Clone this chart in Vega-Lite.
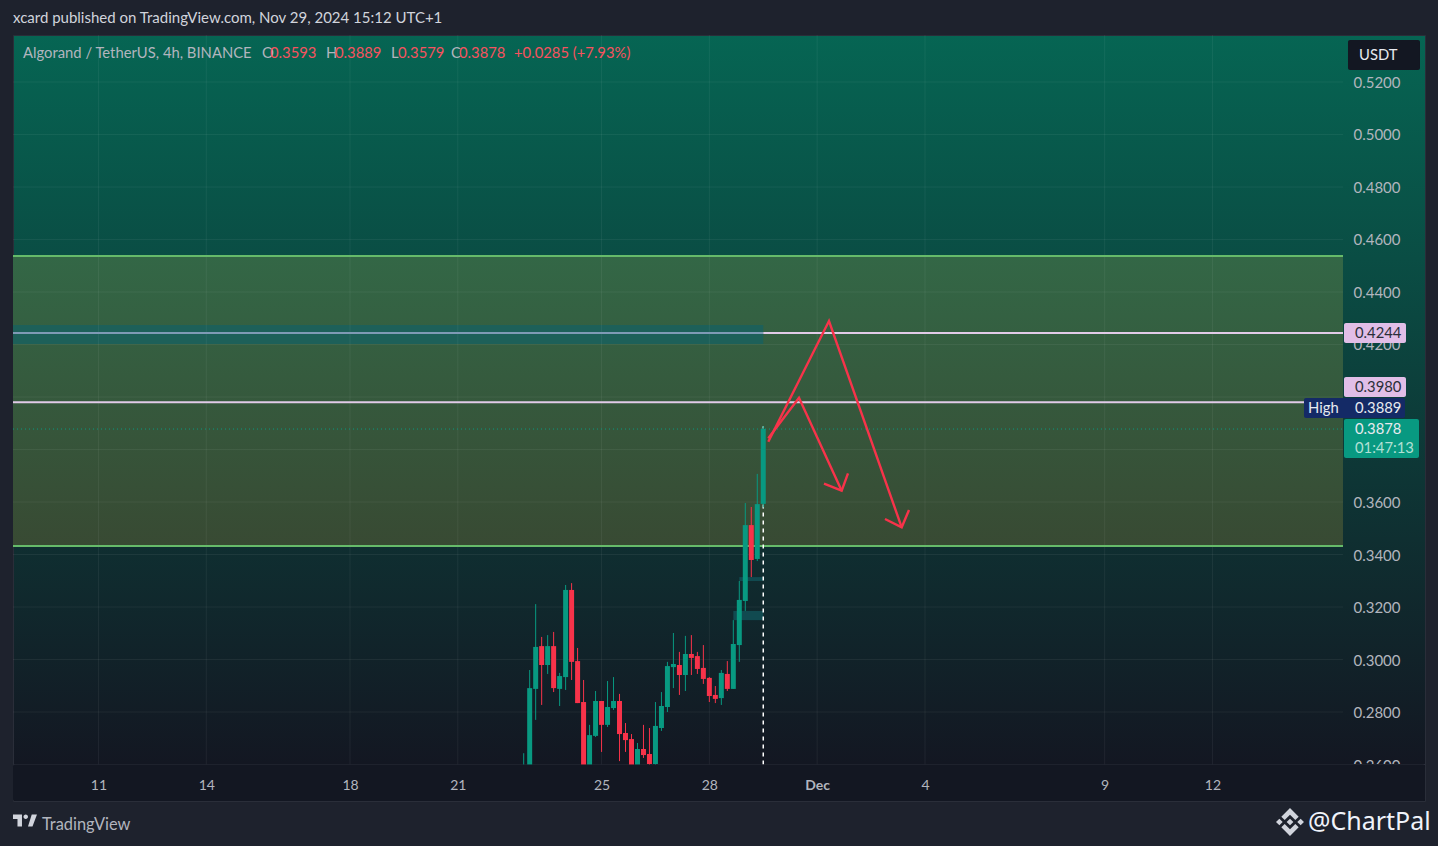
{
  "$schema": "https://vega.github.io/schema/vega-lite/v6.json",
  "width": 1412,
  "height": 766,
  "autosize": "none",
  "padding": {"left": 13, "top": 35, "right": 13, "bottom": 45},
  "background": "#1e222d",
  "title": {
    "text": "xcard published on TradingView.com, Nov 29, 2024 15:12 UTC+1",
    "anchor": "start", "frame": "group", "offset": 9, "fontSize": 15, "fontWeight": "normal",
    "font": "Lato", "color": "#d1d4dc"
  },
  "view": {
    "stroke": "#2a2e39",
    "fill": {
      "gradient": "linear", "x1": 0, "y1": 0, "x2": 0, "y2": 1,
      "stops": [{"offset": 0, "color": "#066553"}, {"offset": 0.95, "color": "#131722"}, {"offset": 1, "color": "#131722"}]
    }
  },
  "datasets": {
    "candles": [
      {"t": "2024-11-22T20:00:00Z", "o": 0.2540, "h": 0.2643, "l": 0.2500, "c": 0.2585, "dir": "up"},
      {"t": "2024-11-23T00:00:00Z", "o": 0.2560, "h": 0.2960, "l": 0.2540, "c": 0.2891, "dir": "up"},
      {"t": "2024-11-23T04:00:00Z", "o": 0.2888, "h": 0.3211, "l": 0.2770, "c": 0.3048, "dir": "up"},
      {"t": "2024-11-23T08:00:00Z", "o": 0.3051, "h": 0.3086, "l": 0.2827, "c": 0.2979, "dir": "down"},
      {"t": "2024-11-23T12:00:00Z", "o": 0.2979, "h": 0.3093, "l": 0.2945, "c": 0.3051, "dir": "up"},
      {"t": "2024-11-23T16:00:00Z", "o": 0.3051, "h": 0.3105, "l": 0.2876, "c": 0.2891, "dir": "down"},
      {"t": "2024-11-23T20:00:00Z", "o": 0.2888, "h": 0.2949, "l": 0.2823, "c": 0.2937, "dir": "up"},
      {"t": "2024-11-24T00:00:00Z", "o": 0.2933, "h": 0.3284, "l": 0.2884, "c": 0.3265, "dir": "up"},
      {"t": "2024-11-24T04:00:00Z", "o": 0.3265, "h": 0.3291, "l": 0.2922, "c": 0.2991, "dir": "down"},
      {"t": "2024-11-24T08:00:00Z", "o": 0.2994, "h": 0.3044, "l": 0.2834, "c": 0.2834, "dir": "down"},
      {"t": "2024-11-24T12:00:00Z", "o": 0.2838, "h": 0.2922, "l": 0.2540, "c": 0.2585, "dir": "down"},
      {"t": "2024-11-24T16:00:00Z", "o": 0.2570, "h": 0.2751, "l": 0.2550, "c": 0.2712, "dir": "up"},
      {"t": "2024-11-24T20:00:00Z", "o": 0.2709, "h": 0.2880, "l": 0.2705, "c": 0.2842, "dir": "up"},
      {"t": "2024-11-25T00:00:00Z", "o": 0.2842, "h": 0.2842, "l": 0.2648, "c": 0.2751, "dir": "down"},
      {"t": "2024-11-25T04:00:00Z", "o": 0.2751, "h": 0.2918, "l": 0.2743, "c": 0.2819, "dir": "up"},
      {"t": "2024-11-25T08:00:00Z", "o": 0.2815, "h": 0.2933, "l": 0.2808, "c": 0.2842, "dir": "up"},
      {"t": "2024-11-25T12:00:00Z", "o": 0.2842, "h": 0.2869, "l": 0.2613, "c": 0.2716, "dir": "down"},
      {"t": "2024-11-25T16:00:00Z", "o": 0.2720, "h": 0.2758, "l": 0.2648, "c": 0.2693, "dir": "down"},
      {"t": "2024-11-25T20:00:00Z", "o": 0.2697, "h": 0.2716, "l": 0.2591, "c": 0.2594, "dir": "down"},
      {"t": "2024-11-26T00:00:00Z", "o": 0.2594, "h": 0.2682, "l": 0.2591, "c": 0.2659, "dir": "up"},
      {"t": "2024-11-26T04:00:00Z", "o": 0.2659, "h": 0.2751, "l": 0.2625, "c": 0.2636, "dir": "down"},
      {"t": "2024-11-26T08:00:00Z", "o": 0.2640, "h": 0.2739, "l": 0.2591, "c": 0.2602, "dir": "down"},
      {"t": "2024-11-26T12:00:00Z", "o": 0.2602, "h": 0.2838, "l": 0.2591, "c": 0.2747, "dir": "up"},
      {"t": "2024-11-26T16:00:00Z", "o": 0.2739, "h": 0.2876, "l": 0.2728, "c": 0.2823, "dir": "up"},
      {"t": "2024-11-26T20:00:00Z", "o": 0.2819, "h": 0.2991, "l": 0.2800, "c": 0.2975, "dir": "up"},
      {"t": "2024-11-27T00:00:00Z", "o": 0.2971, "h": 0.3101, "l": 0.2891, "c": 0.2983, "dir": "up"},
      {"t": "2024-11-27T04:00:00Z", "o": 0.2979, "h": 0.3029, "l": 0.2865, "c": 0.2941, "dir": "down"},
      {"t": "2024-11-27T08:00:00Z", "o": 0.2941, "h": 0.3090, "l": 0.2880, "c": 0.3021, "dir": "up"},
      {"t": "2024-11-27T12:00:00Z", "o": 0.3021, "h": 0.3093, "l": 0.2941, "c": 0.3006, "dir": "down"},
      {"t": "2024-11-27T16:00:00Z", "o": 0.3013, "h": 0.3029, "l": 0.2945, "c": 0.2964, "dir": "down"},
      {"t": "2024-11-27T20:00:00Z", "o": 0.2968, "h": 0.3055, "l": 0.2907, "c": 0.2926, "dir": "down"},
      {"t": "2024-11-28T00:00:00Z", "o": 0.2930, "h": 0.2933, "l": 0.2838, "c": 0.2861, "dir": "down"},
      {"t": "2024-11-28T04:00:00Z", "o": 0.2865, "h": 0.2899, "l": 0.2834, "c": 0.2850, "dir": "down"},
      {"t": "2024-11-28T08:00:00Z", "o": 0.2853, "h": 0.2960, "l": 0.2827, "c": 0.2949, "dir": "up"},
      {"t": "2024-11-28T12:00:00Z", "o": 0.2945, "h": 0.2994, "l": 0.2880, "c": 0.2888, "dir": "down"},
      {"t": "2024-11-28T16:00:00Z", "o": 0.2888, "h": 0.3150, "l": 0.2888, "c": 0.3059, "dir": "up"},
      {"t": "2024-11-28T20:00:00Z", "o": 0.3055, "h": 0.3299, "l": 0.2991, "c": 0.3227, "dir": "up"},
      {"t": "2024-11-29T00:00:00Z", "o": 0.3223, "h": 0.3596, "l": 0.3185, "c": 0.3512, "dir": "up"},
      {"t": "2024-11-29T04:00:00Z", "o": 0.3512, "h": 0.3581, "l": 0.3314, "c": 0.3379, "dir": "down"},
      {"t": "2024-11-29T08:00:00Z", "o": 0.3383, "h": 0.3707, "l": 0.3375, "c": 0.3592, "dir": "up"},
      {"t": "2024-11-29T12:00:00Z", "o": 0.3593, "h": 0.3889, "l": 0.3579, "c": 0.3878, "dir": "up"}
    ],
    "hgrid": [
      {"t": 1731077740800, "t2": 1734275475000, "p": 0.52},
      {"t": 1731077740800, "t2": 1734275475000, "p": 0.50},
      {"t": 1731077740800, "t2": 1734275475000, "p": 0.48},
      {"t": 1731077740800, "t2": 1734275475000, "p": 0.46},
      {"t": 1731077740800, "t2": 1734275475000, "p": 0.44},
      {"t": 1731077740800, "t2": 1734275475000, "p": 0.42},
      {"t": 1731077740800, "t2": 1734275475000, "p": 0.40},
      {"t": 1731077740800, "t2": 1734275475000, "p": 0.38},
      {"t": 1731077740800, "t2": 1734275475000, "p": 0.36},
      {"t": 1731077740800, "t2": 1734275475000, "p": 0.34},
      {"t": 1731077740800, "t2": 1734275475000, "p": 0.32},
      {"t": 1731077740800, "t2": 1734275475000, "p": 0.30},
      {"t": 1731077740800, "t2": 1734275475000, "p": 0.28}
    ],
    "vgrid": [
      {"t": 1731283200000, "p": 0.26, "p2": 0.5379},
      {"t": 1731542400000, "p": 0.26, "p2": 0.5379},
      {"t": 1731888000000, "p": 0.26, "p2": 0.5379},
      {"t": 1732147200000, "p": 0.26, "p2": 0.5379},
      {"t": 1732492800000, "p": 0.26, "p2": 0.5379},
      {"t": 1732752000000, "p": 0.26, "p2": 0.5379},
      {"t": 1733011200000, "p": 0.26, "p2": 0.5379},
      {"t": 1733270400000, "p": 0.26, "p2": 0.5379},
      {"t": 1733702400000, "p": 0.26, "p2": 0.5379},
      {"t": 1733961600000, "p": 0.26, "p2": 0.5379}
    ],
    "levels": [
      {"t": 1731077740800, "t2": 1734275475000, "p": 0.4537, "kind": "zone"},
      {"t": 1731077740800, "t2": 1734275475000, "p": 0.3432, "kind": "zone"},
      {"t": 1731077740800, "t2": 1732881600000, "p": 0.4244, "kind": "under"},
      {"t": 1732881600000, "t2": 1734275475000, "p": 0.4244, "kind": "level"},
      {"t": 1731077740800, "t2": 1734275475000, "p": 0.3980, "kind": "level"}
    ],
    "arrows": [
      {"t": 1732893700000, "p": 0.38297, "leg": "a", "i": 1},
      {"t": 1733039643000, "p": 0.42895, "leg": "a", "i": 2},
      {"t": 1733214439000, "p": 0.35036, "leg": "a", "i": 3},
      {"t": 1733174286000, "p": 0.35352, "leg": "ah", "i": 1},
      {"t": 1733214439000, "p": 0.35036, "leg": "ah", "i": 2},
      {"t": 1733231991000, "p": 0.35695, "leg": "ah", "i": 3},
      {"t": 1732893700000, "p": 0.38427, "leg": "b", "i": 1},
      {"t": 1732967513000, "p": 0.39973, "leg": "b", "i": 2},
      {"t": 1733070178000, "p": 0.3643, "leg": "b", "i": 3},
      {"t": 1733027622000, "p": 0.36697, "leg": "bh", "i": 1},
      {"t": 1733070178000, "p": 0.3643, "leg": "bh", "i": 2},
      {"t": 1733085326000, "p": 0.37093, "leg": "bh", "i": 3}
    ],
    "tags": [
      {"t": 1731077740800, "t2": 1734472631000, "p": 0.26, "p2": 0.2461, "kind": "strip"},
      {"t": 1734277879000, "t2": 1734426948000, "p": 0.4282, "p2": 0.4206, "kind": "pink"},
      {"t": 1734277879000, "t2": 1734426948000, "p": 0.4076, "p2": 0.4000, "kind": "pink"},
      {"t": 1734181705000, "t2": 1734424544000, "p": 0.3996, "p2": 0.3920, "kind": "navy"},
      {"t": 1734277879000, "t2": 1734458205000, "p": 0.3916, "p2": 0.3768, "kind": "green"},
      {"t": 1734287496000, "t2": 1734460609000, "p": 0.5360, "p2": 0.5246, "kind": "button"}
    ],
    "labels": [
      {"t": 1731101744000, "p": 0.5309, "text": "Algorand / TetherUS, 4h, BINANCE", "kind": "grey"},
      {"t": 1731676382000, "p": 0.5309, "text": "O", "kind": "grey"},
      {"t": 1731695617000, "p": 0.5309, "text": "0.3593", "kind": "red"},
      {"t": 1731830260000, "p": 0.5309, "text": "H", "kind": "grey"},
      {"t": 1731851899000, "p": 0.5309, "text": "0.3889", "kind": "red"},
      {"t": 1731986542000, "p": 0.5309, "text": "L", "kind": "grey"},
      {"t": 1732003372000, "p": 0.5309, "text": "0.3579", "kind": "red"},
      {"t": 1732130802000, "p": 0.5309, "text": "C", "kind": "grey"},
      {"t": 1732150037000, "p": 0.5309, "text": "0.3878", "kind": "red"},
      {"t": 1732282276000, "p": 0.5309, "text": "+0.0285 (+7.93%)", "kind": "red"},
      {"t": 1734313944000, "p": 0.5303, "text": "USDT", "kind": "light"},
      {"t": 1734304327000, "p": 0.4244, "text": "0.4244", "kind": "dark"},
      {"t": 1734304327000, "p": 0.4038, "text": "0.3980", "kind": "dark"},
      {"t": 1734191323000, "p": 0.3958, "text": "High", "kind": "light"},
      {"t": 1734304327000, "p": 0.3958, "text": "0.3889", "kind": "light"},
      {"t": 1734304327000, "p": 0.3878, "text": "0.3878", "kind": "light"},
      {"t": 1734304327000, "p": 0.3806, "text": "01:47:13", "kind": "mint"}
    ]
  },
  "encoding": {
    "x": {
      "field": "t", "type": "temporal",
      "scale": {"type": "utc", "domain": [1731077740800, 1734472631000], "nice": false, "padding": 0},
      "axis": {
        "title": null, "orient": "bottom", "grid": false, "domain": false, "ticks": false, "zindex": 1,
        "values": [1731283200000, 1731542400000, 1731888000000, 1732147200000, 1732492800000, 1732752000000, 1733011200000, 1733270400000, 1733702400000, 1733961600000],
        "labelExpr": "utcFormat(datum.value, '%d') == '01' ? 'Dec' : utcFormat(datum.value, '%-d')",
        "labelFontWeight": {"condition": {"test": "utcFormat(datum.value, '%d') == '01'", "value": "bold"}, "value": "normal"},
        "labelFont": "Lato", "labelFontSize": 14, "labelColor": "#b2b5be",
        "labelBaseline": "middle", "labelPadding": -16, "labelFlush": false, "labelOverlap": false
      }
    },
    "y": {
      "field": "p", "type": "quantitative",
      "scale": {"domain": [0.2461, 0.5379], "nice": false, "zero": false},
      "axis": {
        "title": null, "orient": "right", "grid": false, "domain": false, "ticks": false, "zindex": 0,
        "values": [0.26, 0.28, 0.30, 0.32, 0.34, 0.36, 0.42, 0.44, 0.46, 0.48, 0.50, 0.52],
        "format": ".4f", "labelFont": "Lato", "labelFontSize": 15, "labelColor": "#b2b5be", "labelOffset": 0.5,
        "labelAlign": "right", "labelPadding": -25, "labelOverlap": false, "labelBound": false
      }
    }
  },
  "layer": [
    {
      "data": {"values": [{"t": 1731077740800, "t2": 1734275475000, "p": 0.4537, "p2": 0.3432}]},
      "mark": {
        "type": "rect",
        "fill": {
          "gradient": "linear", "x1": 0, "y1": 0, "x2": 0, "y2": 1,
          "stops": [{"offset": 0, "color": "#336746"}, {"offset": 1, "color": "#384a33"}]
        }
      },
      "encoding": {"x2": {"field": "t2"}, "y2": {"field": "p2"}}
    },
    {
      "data": {"values": [{"t": 1731077740800, "t2": 1732881600000, "p": 0.4274, "p2": 0.4202}]},
      "mark": {"type": "rect", "fill": "#1d6059"},
      "encoding": {"x2": {"field": "t2"}, "y2": {"field": "p2"}}
    },
    {
      "data": {"name": "hgrid"},
      "mark": {"type": "rule", "stroke": "#ffffff", "strokeOpacity": 0.06, "strokeWidth": 1},
      "encoding": {"x2": {"field": "t2"}}
    },
    {
      "data": {"values": [{"t": 1731077740800, "t2": 1734472631000, "p": 0.26}]},
      "mark": {"type": "rule", "stroke": "#2a2e39", "strokeWidth": 1},
      "encoding": {"x2": {"field": "t2"}}
    },
    {
      "data": {"name": "vgrid"},
      "mark": {"type": "rule", "stroke": "#ffffff", "strokeOpacity": 0.06, "strokeWidth": 1},
      "encoding": {"y2": {"field": "p2"}}
    },
    {
      "data": {"values": [{"t": 1731077740800, "t2": 1734275475000, "p": 0.3878}]},
      "mark": {"type": "rule", "stroke": "#089981", "strokeWidth": 1, "strokeDash": [1, 3]},
      "encoding": {"x2": {"field": "t2"}}
    },
    {
      "data": {"name": "levels"},
      "mark": {"type": "rule", "strokeWidth": 2},
      "encoding": {
        "x2": {"field": "t2"},
        "color": {
          "field": "kind", "type": "nominal", "legend": null,
          "scale": {"domain": ["zone", "under", "level"], "range": ["#66bb6a", "#7f9ab5", "#e1cbe8"]}
        }
      }
    },
    {
      "data": {"values": [
        {"t": "2024-11-28T20:00:00Z", "t2": "2024-11-29T12:00:00Z", "p": 0.3314, "p2": 0.3299},
        {"t": "2024-11-28T16:00:00Z", "t2": "2024-11-29T12:00:00Z", "p": 0.3185, "p2": 0.3150}
      ]},
      "mark": {"type": "rect", "fill": "#114a50"},
      "encoding": {"x2": {"field": "t2"}, "y2": {"field": "p2"}}
    },
    {
      "data": {"values": [{"t": "2024-11-29T12:00:00Z", "p": 0.26, "p2": 0.3889}]},
      "mark": {"type": "rule", "stroke": "#ffffff", "strokeWidth": 1.5, "strokeDash": [4, 4]},
      "encoding": {"y2": {"field": "p2"}}
    },
    {
      "data": {"name": "candles"},
      "mark": {"type": "rule", "strokeWidth": 1},
      "encoding": {
        "y": {"field": "l", "type": "quantitative"},
        "y2": {"field": "h"},
        "color": {"field": "dir", "type": "nominal", "legend": null, "scale": {"domain": ["up", "down"], "range": ["#089981", "#f7334a"]}}
      }
    },
    {
      "data": {"name": "candles"},
      "mark": {"type": "bar", "size": 5},
      "encoding": {
        "y": {"field": "o", "type": "quantitative"},
        "y2": {"field": "c"},
        "color": {"field": "dir", "type": "nominal", "legend": null, "scale": {"domain": ["up", "down"], "range": ["#089981", "#f7334a"]}}
      }
    },
    {
      "data": {"name": "arrows"},
      "mark": {"type": "line", "stroke": "#f7334a", "strokeWidth": 2.4, "strokeJoin": "miter"},
      "encoding": {"detail": {"field": "leg"}, "order": {"field": "i"}}
    },
    {
      "data": {"name": "tags"},
      "mark": {"type": "rect", "cornerRadius": 2},
      "encoding": {
        "x2": {"field": "t2"},
        "y2": {"field": "p2"},
        "color": {
          "field": "kind", "type": "nominal", "legend": null,
          "scale": {"domain": ["strip", "pink", "navy", "green", "button"], "range": ["#131722", "#e1bee7", "#142a66", "#089981", "#131722"]}
        }
      }
    },
    {
      "data": {"name": "labels"},
      "mark": {"type": "text", "align": "left", "baseline": "middle", "font": "Lato", "fontSize": 14.8, "dy": 1},
      "encoding": {
        "text": {"field": "text"},
        "color": {
          "field": "kind", "type": "nominal", "legend": null,
          "scale": {"domain": ["grey", "red", "light", "dark", "mint"], "range": ["#b2b5be", "#f7525f", "#e8eaf0", "#2a2e39", "#b2e0d5"]}
        }
      }
    },
    {
      "data": {"values": [{"t": 1731147427000, "p": 0.2370, "text": "TradingView"}]},
      "mark": {"type": "text", "align": "left", "baseline": "middle", "font": "Lato", "fontSize": 16.4, "color": "#b2b5be"},
      "encoding": {"text": {"field": "text"}}
    },
    {
      "data": {"values": [{"t": 1734191323000, "p": 0.2381, "text": "@ChartPal"}]},
      "mark": {"type": "text", "align": "left", "baseline": "middle", "font": "Noto Sans", "fontSize": 25, "color": "#f0f3fa"},
      "encoding": {"text": {"field": "text"}}
    },
    {
      "data": {"values": [{"t": 1731106553000, "p": 0.2387}]},
      "mark": {
        "type": "point", "filled": true, "color": "#d1d4dc", "opacity": 1, "size": 576,
        "shape": "M -0.25 -0.5 H -1 V -0.125 H -0.625 V 0.5 H -0.25 Z M 0.625 0.5 H 0.25 L 0.5625 -0.5 H 1 Z M -0.125 -0.3125 A 0.1875 0.1875 0 1 0 0.25 -0.3125 A 0.1875 0.1875 0 1 0 -0.125 -0.3125 Z"
      }
    },
    {
      "data": {"values": [{"t": 1734148045000, "p": 0.2381}]},
      "mark": {
        "type": "point", "filled": true, "color": "#d1d4dc", "opacity": 1, "size": 784,
        "shape": "M 0 -0.24 L 0.24 0 L 0 0.24 L -0.24 0 Z M -1 0 L -0.76 -0.24 L -0.52 0 L -0.76 0.24 Z M 1 0 L 0.76 -0.24 L 0.52 0 L 0.76 0.24 Z M 0 -1 L 0.62 -0.38 L 0.38 -0.14 L 0 -0.52 L -0.38 -0.14 L -0.62 -0.38 Z M 0 1 L 0.62 0.38 L 0.38 0.14 L 0 0.52 L -0.38 0.14 L -0.62 0.38 Z"
      }
    }
  ],
  "resolve": {"scale": {"color": "independent"}}
}
